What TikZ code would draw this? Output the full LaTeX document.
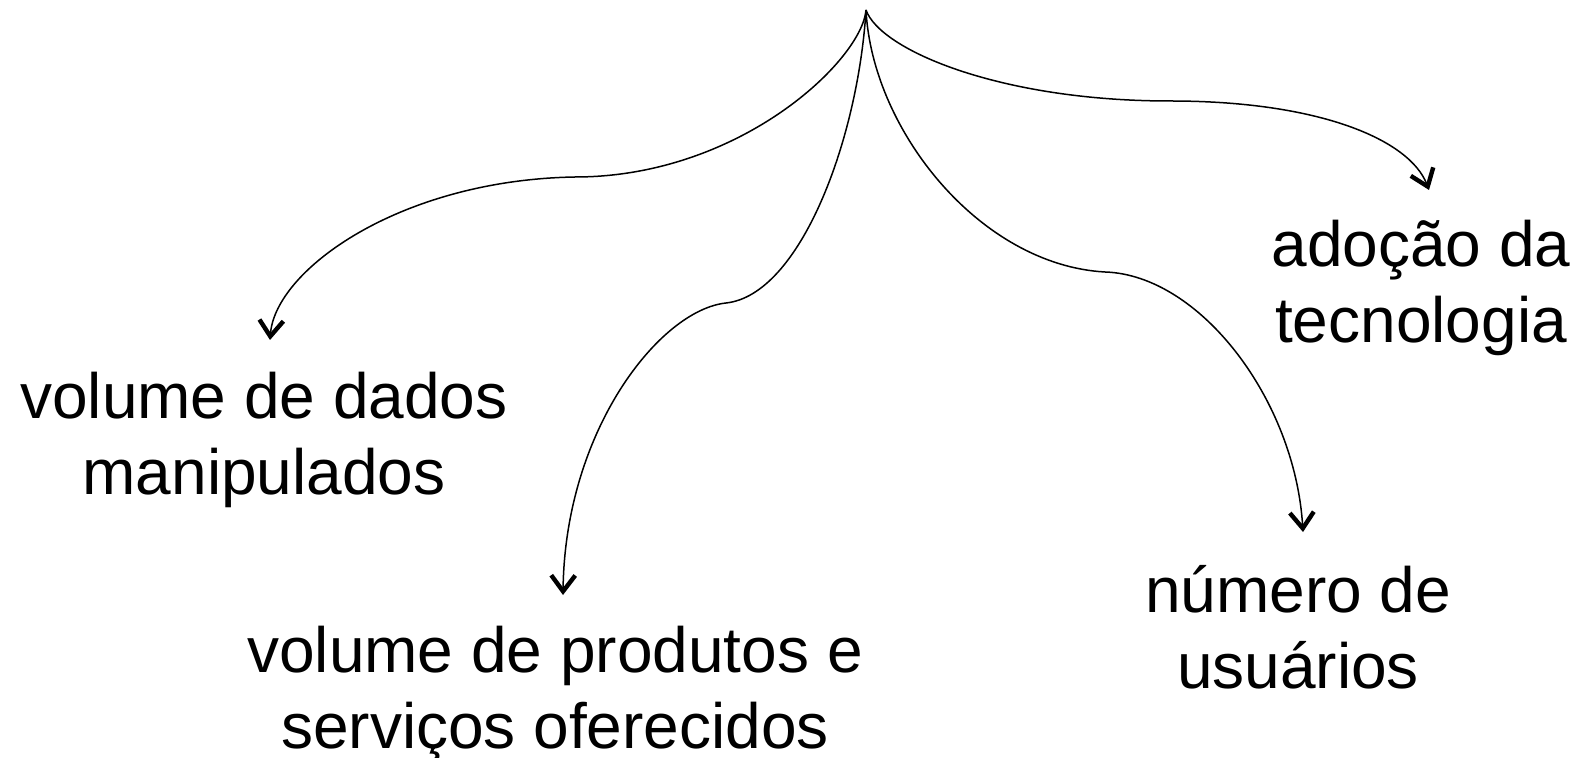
\documentclass[tikz,border=0pt]{standalone}
\usepackage{fontspec}
\setmainfont{Liberation Sans}
\usetikzlibrary{arrows.meta}
\begin{document}
\begin{tikzpicture}[x=0.5pt,y=-0.5pt,
  lbl/.style={align=center,inner sep=0pt,font=\fontsize{32}{38}\selectfont},
  conn/.style={line width=0.75pt,-{Straight Barb[length=8pt,width=12pt,line width=2.2pt]}}]
\useasboundingbox (0,0) rectangle (1582,758);
\coordinate (top) at (866,10);
\coordinate (m1) at (575,177);
\coordinate (m2) at (726,303);
\coordinate (m3) at (1105,272);
\coordinate (m4) at (1170,101);
\coordinate (t1) at (270,340);
\coordinate (t2) at (563,595);
\coordinate (t3) at (1303,532);
\coordinate (t4) at (1429,190);
\node[lbl] (a) at (264,440) {volume de dados\\manipulados};
\node[lbl] (b) at (555,694) {volume de produtos e\\serviços oferecidos};
\node[lbl] (c) at (1298,627) {número de\\usuários};
\node[lbl] (d) at (1421,288) {adoção da\\tecnologia};
\draw[conn] (top) .. controls (862,60) and (740,177) .. (m1)
  .. controls (400,180) and (275,270) .. (t1);
\draw[conn] (top) .. controls (858,140) and (800,295) .. (m2)
  .. controls (660,310) and (565,430) .. (t2);
\draw[conn] (top) .. controls (872,130) and (980,265) .. (m3)
  .. controls (1200,275) and (1295,400) .. (t3);
\draw[conn] (top) .. controls (880,50) and (1000,101) .. (m4)
  .. controls (1320,101) and (1410,140) .. (t4);
\end{tikzpicture}
\end{document}
